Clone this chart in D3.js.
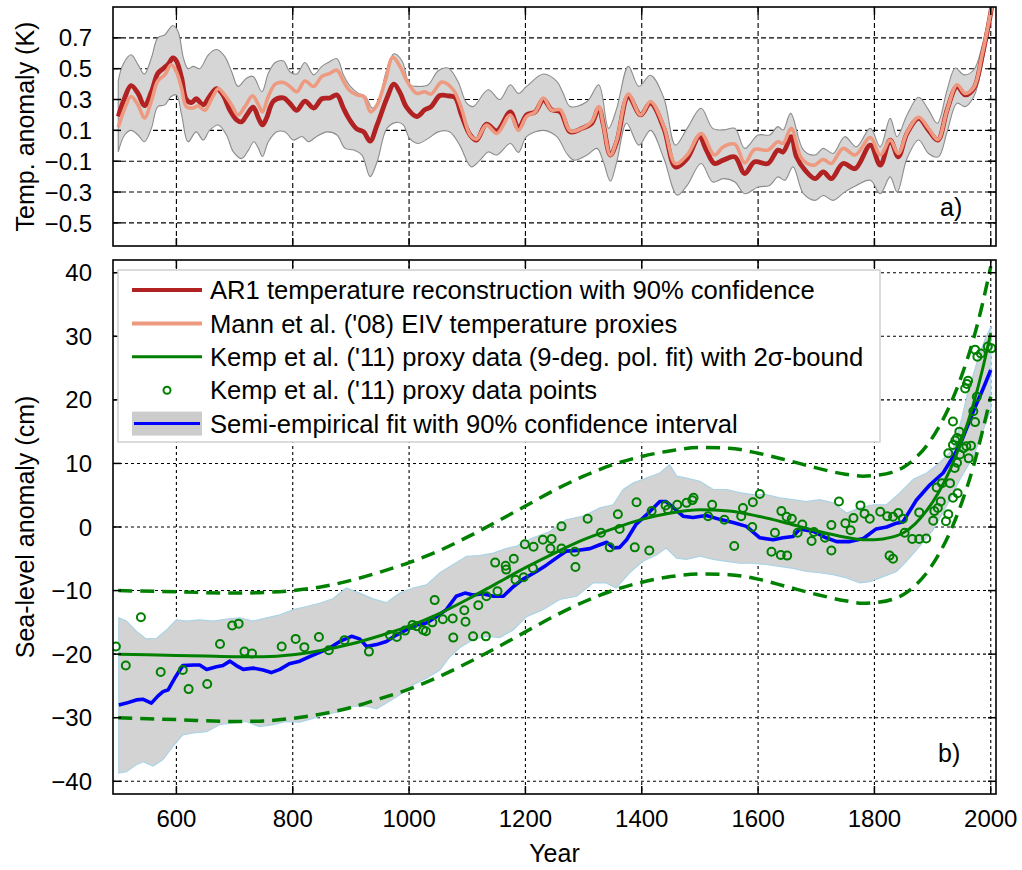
<!DOCTYPE html>
<html>
<head>
<meta charset="utf-8">
<script src="https://cdn.jsdelivr.net/npm/d3@7"></script>
<style>
  html, body { margin: 0; padding: 0; background: #fff; }
  svg { display: block; font-family: "Liberation Sans", Arial, Helvetica, sans-serif; }
</style>
</head>
<body>
<svg id="chart" width="1022" height="870"></svg>
<script>
// ---- panel a) temperature, [year, K]
const ar1Temp = [[500,0.19],[511,0.31],[522,0.39],[534,0.34],[545,0.26],[557,0.35],[568,0.47],[577,0.50],[586,0.53],[594,0.57],[600,0.55],[609,0.44],[617,0.30],[626,0.28],[634,0.305],[646,0.265],[657,0.32],[669,0.37],[680,0.33],[692,0.23],[703,0.17],[712,0.155],[721,0.20],[732,0.25],[741,0.18],[748,0.135],[755,0.18],[767,0.29],[784,0.31],[795,0.275],[807,0.23],[821,0.29],[836,0.245],[850,0.305],[864,0.31],[876,0.33],[887,0.245],[896,0.18],[910,0.11],[922,0.09],[933,0.03],[945,0.135],[962,0.31],[974,0.40],[985,0.34],[995,0.254],[1013,0.19],[1027,0.233],[1038,0.254],[1053,0.326],[1067,0.324],[1079,0.313],[1090,0.20],[1105,0.07],[1116,0.037],[1133,0.14],[1151,0.096],[1174,0.22],[1188,0.113],[1202,0.20],[1217,0.22],[1231,0.30],[1245,0.233],[1260,0.22],[1277,0.09],[1297,0.113],[1314,0.146],[1326,0.243],[1334,0.135],[1346,-0.06],[1357,0.026],[1377,0.32],[1398,0.20],[1415,0.276],[1438,0.113],[1458,-0.137],[1478,-0.083],[1499,0.059],[1511,-0.028],[1525,-0.115],[1540,-0.093],[1560,-0.072],[1577,-0.18],[1594,-0.104],[1617,-0.115],[1634,-0.028],[1643,-0.04],[1657,0.059],[1666,-0.072],[1681,-0.159],[1698,-0.213],[1712,-0.17],[1726,-0.213],[1746,-0.115],[1767,-0.148],[1793,0.004],[1810,-0.126],[1827,0.037],[1841,-0.072],[1856,0.08],[1876,0.178],[1893,0.102],[1909,0.037],[1925,0.233],[1942,0.385],[1956,0.33],[1971,0.374],[1985,0.58],[1997,0.80],[2002,0.91]];

const mannTemp = [[500,0.12],[511,0.24],[522,0.32],[534,0.265],[545,0.18],[557,0.29],[568,0.42],[580,0.46],[591,0.525],[600,0.48],[609,0.37],[617,0.255],[629,0.245],[637,0.26],[649,0.23],[660,0.30],[672,0.37],[683,0.33],[695,0.265],[706,0.20],[718,0.255],[731,0.324],[741,0.265],[748,0.22],[758,0.32],[770,0.40],[784,0.41],[795,0.385],[807,0.35],[821,0.42],[836,0.385],[850,0.45],[864,0.47],[876,0.49],[887,0.42],[896,0.365],[910,0.33],[922,0.32],[934,0.22],[945,0.265],[959,0.42],[972,0.574],[985,0.51],[995,0.43],[1013,0.34],[1027,0.35],[1038,0.335],[1056,0.413],[1076,0.363],[1090,0.243],[1105,0.07],[1116,0.043],[1133,0.135],[1151,0.08],[1174,0.20],[1188,0.10],[1202,0.19],[1217,0.22],[1231,0.31],[1245,0.233],[1260,0.233],[1277,0.096],[1297,0.113],[1314,0.157],[1326,0.254],[1334,0.135],[1346,-0.06],[1357,0.037],[1377,0.335],[1398,0.20],[1415,0.287],[1438,0.124],[1458,-0.115],[1478,-0.06],[1502,0.08],[1525,-0.06],[1540,-0.007],[1560,0.01],[1577,-0.111],[1594,-0.024],[1617,-0.028],[1634,0.026],[1643,0.015],[1657,0.113],[1675,-0.083],[1695,-0.126],[1712,-0.089],[1726,-0.115],[1746,-0.017],[1767,-0.06],[1793,0.054],[1810,-0.06],[1827,0.037],[1841,-0.05],[1856,0.085],[1876,0.185],[1893,0.113],[1909,0.04],[1925,0.233],[1942,0.396],[1956,0.34],[1971,0.38],[1985,0.59],[1997,0.81],[2002,0.91]];

const tempUpper = [[500,0.42],[508,0.526],[522,0.59],[534,0.526],[545,0.465],[557,0.57],[568,0.70],[580,0.72],[594,0.78],[603,0.74],[612,0.57],[620,0.50],[629,0.515],[640,0.50],[655,0.59],[669,0.624],[683,0.58],[695,0.48],[706,0.385],[721,0.44],[732,0.45],[747,0.35],[758,0.47],[770,0.54],[784,0.55],[795,0.48],[807,0.465],[821,0.54],[836,0.46],[850,0.515],[861,0.54],[876,0.565],[887,0.46],[899,0.385],[913,0.34],[925,0.32],[937,0.245],[949,0.30],[959,0.46],[974,0.596],[988,0.55],[1001,0.396],[1015,0.385],[1033,0.396],[1050,0.487],[1067,0.504],[1084,0.417],[1099,0.276],[1110,0.254],[1136,0.363],[1156,0.30],[1174,0.396],[1188,0.34],[1202,0.385],[1231,0.465],[1254,0.417],[1265,0.34],[1277,0.254],[1306,0.287],[1326,0.396],[1343,0.113],[1357,0.243],[1377,0.515],[1395,0.385],[1415,0.457],[1438,0.31],[1458,0.004],[1478,0.113],[1502,0.243],[1522,0.113],[1540,0.102],[1560,0.113],[1577,-0.017],[1600,0.07],[1620,0.07],[1634,0.124],[1643,0.102],[1656,0.21],[1678,-0.028],[1698,-0.06],[1712,-0.017],[1729,-0.05],[1749,0.059],[1769,-0.007],[1793,0.113],[1810,-0.007],[1827,0.178],[1839,0.059],[1856,0.20],[1876,0.315],[1893,0.233],[1908,0.146],[1925,0.363],[1939,0.504],[1954,0.46],[1971,0.493],[1985,0.646],[1999,0.885],[2002,0.95]];

const tempLower = [[500,-0.04],[511,0.07],[522,0.10],[534,0.07],[545,0.026],[557,0.113],[568,0.254],[580,0.265],[591,0.32],[600,0.33],[609,0.20],[620,0.026],[634,0.09],[646,0.037],[657,0.10],[672,0.135],[686,0.07],[698,-0.04],[712,-0.083],[724,-0.028],[733,0.026],[741,-0.017],[748,-0.07],[758,0.026],[772,0.09],[787,0.09],[801,0.037],[816,0.06],[827,0.026],[841,0.06],[859,0.09],[876,0.07],[890,-0.017],[905,-0.028],[919,-0.06],[933,-0.20],[945,-0.104],[962,0.113],[979,0.152],[990,0.135],[1001,0.048],[1015,0.015],[1033,0.048],[1050,0.09],[1070,0.09],[1087,0.004],[1107,-0.137],[1122,-0.093],[1136,-0.04],[1151,-0.06],[1174,0.015],[1188,-0.043],[1202,0.059],[1231,0.10],[1254,0.059],[1271,-0.05],[1283,-0.093],[1306,-0.06],[1323,-0.017],[1334,-0.104],[1346,-0.23],[1357,-0.104],[1374,0.146],[1395,0.004],[1415,0.10],[1438,-0.083],[1461,-0.32],[1478,-0.257],[1502,-0.115],[1522,-0.235],[1540,-0.213],[1560,-0.235],[1577,-0.311],[1600,-0.267],[1620,-0.257],[1634,-0.202],[1646,-0.224],[1660,-0.137],[1678,-0.311],[1698,-0.354],[1712,-0.322],[1729,-0.354],[1749,-0.30],[1769,-0.257],[1793,-0.224],[1810,-0.311],[1827,-0.202],[1839,-0.30],[1856,-0.083],[1876,0.037],[1893,-0.05],[1910,-0.072],[1925,0.091],[1942,0.276],[1956,0.254],[1971,0.32],[1985,0.515],[1999,0.82],[2002,0.88]];

// ---- panel b) sea level, [year, cm]
const semiEmp = [[501,-28.0],[514,-27.7],[531,-27.2],[543,-27.1],[557,-27.7],[568,-26.6],[577,-25.9],[586,-25.6],[597,-23.8],[611,-21.8],[629,-21.7],[640,-21.7],[652,-22.4],[669,-22.0],[680,-21.8],[692,-21.1],[703,-21.8],[715,-22.4],[732,-22.2],[749,-22.5],[763,-22.9],[778,-22.4],[794,-21.5],[812,-21.1],[829,-20.4],[846,-19.7],[864,-19.0],[881,-18.0],[901,-17.2],[915,-17.6],[927,-18.8],[944,-18.5],[961,-18.0],[978,-17.0],[995,-16.2],[1013,-15.4],[1030,-15.1],[1047,-14.1],[1064,-13.0],[1081,-10.9],[1096,-10.4],[1110,-10.7],[1127,-10.5],[1145,-10.9],[1162,-10.9],[1179,-9.4],[1196,-8.2],[1219,-7.0],[1236,-6.0],[1259,-4.5],[1270,-3.8],[1288,-3.7],[1311,-3.4],[1328,-2.8],[1340,-2.4],[1351,-3.3],[1362,-3.2],[1374,-2.0],[1390,0.4],[1408,1.9],[1431,4.0],[1442,4.0],[1454,3.1],[1471,1.7],[1488,1.5],[1511,1.8],[1534,1.2],[1557,0.7],[1580,0.1],[1603,-1.7],[1626,-2.0],[1643,-1.7],[1660,-1.5],[1672,-0.3],[1695,-0.7],[1717,-1.7],[1735,-2.3],[1758,-2.3],[1781,-1.8],[1803,-0.3],[1821,0.0],[1838,0.6],[1849,0.8],[1872,4.2],[1895,6.6],[1918,8.5],[1935,11.0],[1947,12.9],[1970,18.2],[1987,21.8],[2000,24.7]];

const semiUpper = [[501,-14.3],[514,-14.8],[531,-16.4],[548,-17.6],[566,-17.5],[583,-16.2],[600,-14.6],[617,-14.8],[640,-14.6],[663,-14.8],[686,-14.5],[709,-14.3],[732,-14.8],[755,-14.3],[778,-13.8],[801,-13.0],[824,-12.5],[846,-12.0],[869,-11.3],[892,-9.6],[915,-10.4],[938,-11.3],[961,-11.9],[984,-10.4],[1007,-9.6],[1030,-9.1],[1053,-7.2],[1076,-5.9],[1099,-4.6],[1121,-4.5],[1145,-4.1],[1167,-3.4],[1185,-3.0],[1213,-1.7],[1242,-0.7],[1270,1.15],[1299,1.7],[1328,3.0],[1351,3.5],[1368,5.9],[1385,6.9],[1408,7.7],[1431,8.5],[1448,9.8],[1460,8.0],[1477,7.7],[1500,7.2],[1523,5.9],[1546,5.9],[1568,5.4],[1591,5.1],[1614,5.1],[1637,4.6],[1660,4.3],[1683,4.0],[1706,4.3],[1729,3.8],[1752,2.2],[1775,3.0],[1798,3.5],[1821,3.5],[1844,5.4],[1867,7.5],[1890,8.5],[1912,10.1],[1935,12.2],[1950,17.0],[1960,21.0],[1970,24.0],[1980,27.0],[1990,29.5],[2000,31.5]];

const semiLower = [[501,-38.7],[514,-38.5],[531,-37.4],[543,-36.9],[560,-37.6],[577,-36.6],[594,-34.5],[611,-32.7],[629,-32.4],[652,-32.2],[674,-31.1],[697,-30.8],[720,-30.6],[743,-31.4],[766,-31.1],[789,-30.6],[812,-30.7],[835,-30.1],[858,-29.5],[881,-29.0],[904,-28.2],[927,-28.2],[944,-28.6],[961,-27.7],[984,-26.4],[1007,-24.8],[1030,-23.8],[1053,-22.5],[1070,-20.4],[1087,-19.0],[1110,-17.7],[1133,-17.2],[1156,-17.4],[1179,-16.2],[1202,-14.1],[1230,-13.0],[1259,-11.4],[1288,-10.9],[1316,-8.8],[1339,-8.8],[1356,-9.6],[1379,-7.2],[1402,-5.4],[1425,-4.4],[1442,-3.3],[1460,-4.9],[1477,-5.1],[1500,-4.6],[1523,-5.1],[1546,-5.4],[1568,-5.7],[1591,-5.7],[1614,-5.9],[1637,-6.2],[1660,-6.5],[1683,-7.0],[1706,-7.2],[1729,-7.5],[1752,-8.0],[1775,-8.8],[1792,-8.6],[1815,-7.8],[1838,-7.0],[1855,-5.4],[1878,-3.0],[1901,-0.4],[1924,3.3],[1947,7.5],[1970,11.1],[1980,13.5],[1990,16.0],[2000,18.5]];

const kempFit = [[500,-20.0],[550,-20.1],[600,-20.2],[650,-20.3],[700,-20.4],[750,-20.4],[800,-20.1],[850,-19.4],[900,-18.4],[950,-17.1],[1000,-15.6],[1050,-13.7],[1100,-11.4],[1150,-8.9],[1200,-6.4],[1250,-4.1],[1300,-2.0],[1350,-0.3],[1400,1.2],[1450,2.2],[1500,2.7],[1550,2.5],[1600,1.7],[1650,0.6],[1700,-0.6],[1750,-1.6],[1780,-2.0],[1800,-2.0],[1830,-1.6],[1850,-0.9],[1870,0.5],[1890,2.6],[1910,5.4],[1930,9.0],[1950,13.6],[1970,19.3],[1985,24.5],[2000,30.5]];

const kempUpper = [[500,-10.0],[600,-10.2],[700,-10.4],[750,-10.3],[800,-10.0],[850,-9.4],[900,-8.4],[950,-7.1],[1000,-5.6],[1050,-3.8],[1100,-1.6],[1150,0.8],[1200,3.3],[1250,5.8],[1300,8.0],[1350,9.8],[1400,11.1],[1450,12.0],[1500,12.5],[1550,12.4],[1600,11.6],[1650,10.5],[1700,9.3],[1750,8.3],[1780,8.0],[1800,8.1],[1830,8.6],[1850,9.4],[1870,10.8],[1890,12.8],[1910,15.6],[1930,19.2],[1950,23.8],[1970,29.5],[1985,34.8],[2000,41.0]];

const kempLower = [[500,-30.0],[600,-30.3],[700,-30.6],[750,-30.5],[800,-30.1],[850,-29.4],[900,-28.4],[950,-27.0],[1000,-25.5],[1050,-23.6],[1100,-21.4],[1150,-19.0],[1200,-16.5],[1250,-14.0],[1300,-11.8],[1350,-10.0],[1400,-8.7],[1450,-7.8],[1500,-7.4],[1550,-7.5],[1600,-8.2],[1650,-9.4],[1700,-10.6],[1750,-11.6],[1780,-12.0],[1800,-11.9],[1830,-11.4],[1850,-10.6],[1870,-9.2],[1890,-7.2],[1910,-4.4],[1930,-0.8],[1950,3.8],[1970,9.5],[1985,14.8],[2000,20.5]];

const kempPoints = [[496,-18.8],[513,-21.8],[539,-14.2],[573,-22.8],[611,-22.5],[621,-25.5],[653,-24.7],[675,-18.4],[696,-15.5],[707,-15.2],[717,-19.6],[730,-19.9],[781,-18.8],[805,-17.6],[820,-18.9],[845,-17.3],[862,-19.4],[889,-17.8],[931,-19.6],[967,-17.0],[979,-17.3],[993,-16.3],[1006,-15.4],[1013,-15.6],[1024,-16.2],[1029,-16.4],[1040,-15.0],[1044,-11.5],[1058,-14.5],[1075,-14.4],[1076,-17.4],[1095,-13.1],[1097,-14.9],[1110,-17.2],[1119,-12.3],[1132,-17.2],[1133,-10.9],[1148,-5.6],[1152,-10.1],[1166,-6.1],[1167,-6.7],[1180,-5.0],[1183,-8.3],
  [1197,-7.9],[1199,-2.7],[1213,-6.5],[1214,-3.1],[1230,-2.0],[1243,-3.4],[1245,-1.9],[1262,0.1],[1262,-3.4],[1285,-3.9],[1286,-6.3],[1307,1.3],[1330,-0.9],[1345,-3.2],[1359,2.0],[1362,-0.3],[1388,-3.2],[1391,3.9],[1413,-3.7],[1417,2.5],[1441,3.4],[1445,2.75],[1461,3.5],[1477,3.8],[1487,4.2],[1489,4.6],[1514,1.7],[1521,3.5],
  [1542,1.15],[1559,-3.0],[1571,1.7],[1574,3.0],[1590,0.0],[1591,3.9],[1603,5.2],[1623,-3.9],[1629,-0.9],[1639,-4.4],[1640,2.5],[1649,1.6],[1650,-4.5],[1658,1.3],[1668,-0.9],[1676,0.4],[1692,-2.2],[1696,-0.8],[1715,-1.7],[1726,-3.7],[1726,0.3],[1739,4.0],[1750,0.6],[1759,-0.5],[1764,1.4],[1776,3.4],[1783,2.1],[1792,1.3],[1810,2.4],[1822,1.7],[1826,-4.5],[1832,-5.0],[1832,1.6],[1841,2.2],[1849,1.3],[1852,-0.9],[1865,-1.9],[1877,-1.9],[1877,2.3],[1889,-1.8],
  [1901,1.0],[1903,2.5],[1909,3.0],[1914,4.0],[1923,0.9],[1927,2.0],[1907,6.2],[1916,6.9],[1930,6.9],[1935,4.6],[1943,5.3],[1927,11.6],[1935,12.9],[1939,13.6],[1942,14.0],[1946,15.0],[1935,16.6],[1938,9.3],[1942,10.1],[1947,11.4],[1953,12.4],[1958,12.7],[1962,10.8],[1966,12.8],[1973,16.5],[1970,18.2],[1976,20.5],[1956,21.8],[1959,22.5],[1961,23.0],[1973,27.9],[1977,26.8],[1983,27.3],[1995,28.4],[2001,28.1]];

const yearTicks = [600, 800, 1000, 1200, 1400, 1600, 1800, 2000];
const tempTicks = [0.7, 0.5, 0.3, 0.1, -0.1, -0.3, -0.5];
const seaTicks = [40, 30, 20, 10, 0, -10, -20, -30, -40];

const legendLabels = [
  'AR1 temperature reconstruction with 90% confidence',
  "Mann et al. ('08) EIV temperature proxies",
  "Kemp et al. ('11) proxy data (9-deg. pol. fit) with 2\u03c3-bound",
  "Kemp et al. ('11) proxy data points",
  'Semi-empirical fit with 90% confidence interval'
];

const svg = d3.select('#chart');
const plotLeft = 113, plotRight = 996;
const panelA = { top: 7, bottom: 246 };
const panelB = { top: 260, bottom: 794 };

const x = d3.scaleLinear().domain([491, 2009]).range([plotLeft, plotRight]);
const yA = d3.scaleLinear().domain([-0.65, 0.9]).range([panelA.bottom, panelA.top]);
const yB = d3.scaleLinear().domain([-42, 42]).range([panelB.bottom, panelB.top]);

const FONT = 24;

function drawGrid(g, y, ticks, panel, dash) {
  g.selectAll('.vgrid').data(yearTicks).enter().append('line')
    .attr('x1', d => x(d)).attr('x2', d => x(d))
    .attr('y1', panel.top).attr('y2', panel.bottom)
    .attr('stroke', '#000').attr('stroke-width', 1.1).attr('stroke-dasharray', dash);
  g.selectAll('.hgrid').data(ticks).enter().append('line')
    .attr('x1', plotLeft).attr('x2', plotRight)
    .attr('y1', d => y(d)).attr('y2', d => y(d))
    .attr('stroke', '#000').attr('stroke-width', 1.1).attr('stroke-dasharray', dash);
}

function drawBorder(g, y, ticks, panel) {
  const tk = 8;
  yearTicks.forEach(d => {
    g.append('line').attr('x1', x(d)).attr('x2', x(d)).attr('y1', panel.bottom).attr('y2', panel.bottom - tk)
      .attr('stroke', '#000').attr('stroke-width', 1.5);
    g.append('line').attr('x1', x(d)).attr('x2', x(d)).attr('y1', panel.top).attr('y2', panel.top + tk)
      .attr('stroke', '#000').attr('stroke-width', 1.5);
  });
  ticks.forEach(d => {
    g.append('line').attr('x1', plotLeft).attr('x2', plotLeft + tk).attr('y1', y(d)).attr('y2', y(d))
      .attr('stroke', '#000').attr('stroke-width', 1.5);
    g.append('line').attr('x1', plotRight).attr('x2', plotRight - tk).attr('y1', y(d)).attr('y2', y(d))
      .attr('stroke', '#000').attr('stroke-width', 1.5);
  });
  g.append('rect')
    .attr('x', plotLeft).attr('y', panel.top)
    .attr('width', plotRight - plotLeft).attr('height', panel.bottom - panel.top)
    .attr('fill', 'none').attr('stroke', '#000').attr('stroke-width', 1.6);
}

function yLabels(y, ticks, fmt) {
  svg.append('g').selectAll('text').data(ticks).enter().append('text')
    .attr('x', 92).attr('y', d => y(d)).attr('dy', '0.36em')
    .attr('text-anchor', 'end').attr('font-size', FONT)
    .text(fmt);
}

// closed band: upper edge forward, lower edge back
function bandPath(y, upper, lower, curve) {
  const ln = d3.line().x(d => x(d[0])).y(d => y(d[1])).curve(curve);
  return ln(upper) + 'L' + ln(lower.slice().reverse()).slice(1) + 'Z';
}

const defs = svg.append('defs');
defs.append('clipPath').attr('id', 'clipA').append('rect')
  .attr('x', plotLeft).attr('y', panelA.top).attr('width', plotRight - plotLeft).attr('height', panelA.bottom - panelA.top);
defs.append('clipPath').attr('id', 'clipB').append('rect')
  .attr('x', plotLeft).attr('y', panelB.top).attr('width', plotRight - plotLeft).attr('height', panelB.bottom - panelB.top);

// ---------- panel a ----------
const gA = svg.append('g');
drawGrid(gA, yA, tempTicks, panelA, '5,3');
const dataA = gA.append('g').attr('clip-path', 'url(#clipA)');
const curveA = d3.curveCatmullRom.alpha(0.5);
dataA.append('path').attr('d', bandPath(yA, tempUpper, tempLower, curveA))
  .attr('fill', '#d6d6d6').attr('stroke', '#8c8c8c').attr('stroke-width', 1.1);
const lineA = d3.line().x(d => x(d[0])).y(d => yA(d[1])).curve(curveA);
dataA.append('path').attr('d', lineA(ar1Temp)).attr('fill', 'none')
  .attr('stroke', '#b22222').attr('stroke-width', 4.8).attr('stroke-linejoin', 'round');
dataA.append('path').attr('d', lineA(mannTemp)).attr('fill', 'none')
  .attr('stroke', '#ee9a80').attr('stroke-width', 3.6).attr('stroke-linejoin', 'round');
drawBorder(gA, yA, tempTicks, panelA);
yLabels(yA, tempTicks, d => d3.format('.1f')(d));

svg.append('text').attr('x', 940).attr('y', 216).attr('font-size', 25).text('a)');

// ---------- panel b ----------
const gB = svg.append('g');
drawGrid(gB, yB, seaTicks, panelB, '3,3');
const dataB = gB.append('g').attr('clip-path', 'url(#clipB)');
dataB.append('path').attr('d', bandPath(yB, semiUpper, semiLower, d3.curveLinear))
  .attr('fill', '#d3d3d3').attr('stroke', '#a9d4e6').attr('stroke-width', 1.2);

const lineB = d3.line().x(d => x(d[0])).y(d => yB(d[1]));
const smoothB = d3.line().x(d => x(d[0])).y(d => yB(d[1])).curve(d3.curveMonotoneX);

dataB.append('path').attr('d', lineB(semiEmp)).attr('fill', 'none')
  .attr('stroke', '#0000ff').attr('stroke-width', 3.6).attr('stroke-linejoin', 'round');
dataB.append('path').attr('d', smoothB(kempFit)).attr('fill', 'none')
  .attr('stroke', '#008000').attr('stroke-width', 3);
[kempUpper, kempLower].forEach(s => {
  dataB.append('path').attr('d', smoothB(s)).attr('fill', 'none')
    .attr('stroke', '#008000').attr('stroke-width', 3.5).attr('stroke-dasharray', '14,8');
});
dataB.selectAll('.pt').data(kempPoints).enter().append('circle')
  .attr('cx', d => x(d[0])).attr('cy', d => yB(d[1])).attr('r', 4)
  .attr('fill', 'none').attr('stroke', '#008000').attr('stroke-width', 2);

drawBorder(gB, yB, seaTicks, panelB);
yLabels(yB, seaTicks, d => d3.format('d')(d));

svg.append('text').attr('x', 938).attr('y', 762).attr('font-size', 25).text('b)');

// x tick labels
svg.append('g').selectAll('text').data(yearTicks).enter().append('text')
  .attr('x', d => x(d)).attr('y', 827).attr('text-anchor', 'middle').attr('font-size', FONT)
  .text(d => d);

// axis titles
svg.append('text').attr('x', (plotLeft + plotRight) / 2).attr('y', 862)
  .attr('text-anchor', 'middle').attr('font-size', 25).text('Year');
svg.append('text').attr('transform', `translate(34,${(panelA.top + panelA.bottom) / 2}) rotate(-90)`)
  .attr('text-anchor', 'middle').attr('font-size', 25).text('Temp. anomaly (K)');
svg.append('text').attr('transform', `translate(34,${(panelB.top + panelB.bottom) / 2}) rotate(-90)`)
  .attr('text-anchor', 'middle').attr('font-size', 25).text('Sea-level anomaly (cm)');

// ---------- legend ----------
const lg = svg.append('g');
lg.append('rect').attr('x', 118).attr('y', 270).attr('width', 762).attr('height', 172)
  .attr('fill', '#fff').attr('stroke', '#cfcfcf').attr('stroke-width', 1.5);
const rowY = i => 290 + i * 33.4;
const sx1 = 132, sx2 = 202;
lg.append('line').attr('x1', sx1).attr('x2', sx2).attr('y1', rowY(0)).attr('y2', rowY(0))
  .attr('stroke', '#b22222').attr('stroke-width', 4);
lg.append('line').attr('x1', sx1).attr('x2', sx2).attr('y1', rowY(1)).attr('y2', rowY(1))
  .attr('stroke', '#ee9a80').attr('stroke-width', 4);
lg.append('line').attr('x1', sx1).attr('x2', sx2).attr('y1', rowY(2)).attr('y2', rowY(2))
  .attr('stroke', '#008000').attr('stroke-width', 3);
lg.append('circle').attr('cx', (sx1 + sx2) / 2).attr('cy', rowY(3)).attr('r', 3.5)
  .attr('fill', 'none').attr('stroke', '#008000').attr('stroke-width', 2);
lg.append('rect').attr('x', sx1).attr('y', rowY(4) - 12).attr('width', sx2 - sx1).attr('height', 24)
  .attr('fill', '#cccccc');
lg.append('line').attr('x1', sx1 + 2).attr('x2', sx2 - 2).attr('y1', rowY(4)).attr('y2', rowY(4))
  .attr('stroke', '#0000ff').attr('stroke-width', 3);
lg.selectAll('.lt').data(legendLabels).enter().append('text')
  .attr('x', 210).attr('y', (d, i) => rowY(i)).attr('dy', '0.36em')
  .attr('font-size', 25.6).text(d => d);
</script>
</body>
</html>
